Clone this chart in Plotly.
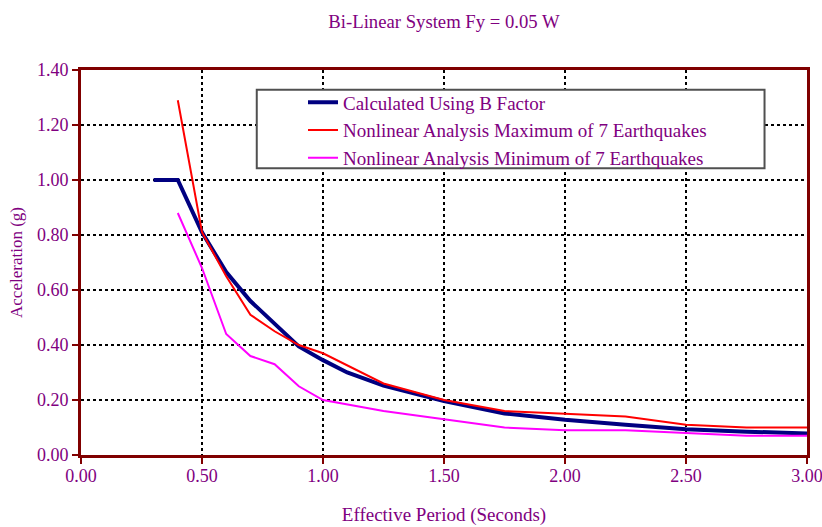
import plotly.graph_objects as go

# Data
calc_x = [0.30, 0.40, 0.50, 0.60, 0.70, 0.80, 0.90, 1.00, 1.10, 1.25, 1.50, 1.75, 2.00, 2.25, 2.50, 2.75, 3.00]
calc_y = [1.00, 1.00, 0.81, 0.665, 0.56, 0.475, 0.395, 0.345, 0.30, 0.252, 0.196, 0.151, 0.128, 0.110, 0.094, 0.085, 0.078]

max_x = [0.40, 0.50, 0.60, 0.70, 0.80, 0.90, 1.00, 1.25, 1.50, 1.75, 2.00, 2.25, 2.50, 2.75, 3.00]
max_y = [1.29, 0.81, 0.65, 0.51, 0.45, 0.40, 0.37, 0.26, 0.20, 0.16, 0.15, 0.14, 0.11, 0.10, 0.10]

min_x = [0.40, 0.50, 0.60, 0.70, 0.80, 0.90, 1.00, 1.25, 1.50, 1.75, 2.00, 2.25, 2.50, 2.75, 3.00]
min_y = [0.88, 0.68, 0.44, 0.36, 0.33, 0.25, 0.20, 0.16, 0.13, 0.10, 0.09, 0.09, 0.08, 0.07, 0.07]

names = ["Calculated Using B Factor",
         "Nonlinear Analysis Maximum of 7 Earthquakes",
         "Nonlinear Analysis Minimum of 7 Earthquakes"]

x_ticks = [0, 0.5, 1.0, 1.5, 2.0, 2.5, 3.0]
y_ticks = [0, 0.2, 0.4, 0.6, 0.8, 1.0, 1.2, 1.4]

FONT = "Liberation Serif"
TXT = "#800080"
AX = "#800000"

fig = go.Figure()
fig.add_trace(go.Scatter(x=calc_x, y=calc_y, mode="lines", name=names[0],
                         line=dict(color="#000080", width=4)))
fig.add_trace(go.Scatter(x=max_x, y=max_y, mode="lines", name=names[1],
                         line=dict(color="#FF0000", width=2)))
fig.add_trace(go.Scatter(x=min_x, y=min_y, mode="lines", name=names[2],
                         line=dict(color="#FF00FF", width=2)))

axis_common = dict(showline=True, linecolor=AX, linewidth=3, mirror=True,
                   ticks="outside", ticklen=6, tickwidth=2, tickcolor=AX,
                   showgrid=True, gridcolor="black", gridwidth=2, griddash="dot",
                   zeroline=False, automargin=False, ticklabeloverflow="allow",
                   tickfont=dict(family=FONT, size=18, color=TXT))

fig.update_xaxes(range=[0, 3], tickvals=x_ticks, tickformat=".2f", ticklabelstandoff=-4,
                 title=dict(text="Effective Period (Seconds)", font=dict(family=FONT, size=19, color=TXT), standoff=24),
                 **axis_common)
fig.update_yaxes(range=[0, 1.4], tickvals=y_ticks, tickformat=".2f",
                 title=dict(text="Acceleration (g)", font=dict(family=FONT, size=17, color=TXT), standoff=10),
                 **axis_common)

# legend frame
fig.add_shape(type="rect", xref="paper", yref="paper",
              x0=0.2421, x1=0.9415, y0=0.745, y1=0.9486,
              line=dict(color="#505050", width=2), fillcolor="white", layer="above")

fig.update_layout(
    width=822, height=527,
    margin=dict(l=81, r=15, t=70, b=72),
    paper_bgcolor="white", plot_bgcolor="white",
    title=dict(text="Bi-Linear System Fy = 0.05 W", x=444/822, xref="container", xanchor="center",
               y=1 - 21/527, yanchor="middle",
               font=dict(family=FONT, size=18.7, color=TXT)),
    legend=dict(x=(303-81)/726, y=(454.5-83)/385, xanchor="left", yanchor="top", bgcolor="rgba(0,0,0,0)",
                borderwidth=0, font=dict(family=FONT, size=19, color=TXT), itemwidth=30,
                tracegroupgap=0),
    showlegend=True,
)

fig.write_html("out.html")
